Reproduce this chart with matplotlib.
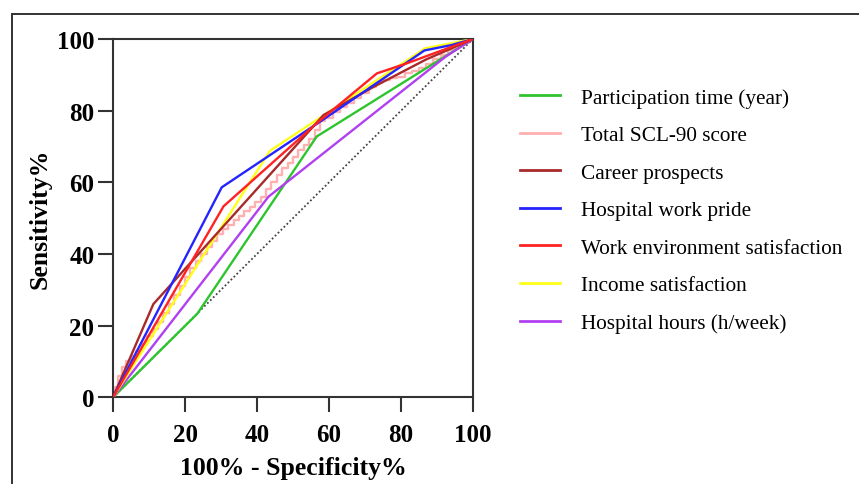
import matplotlib
matplotlib.use("Agg")
import matplotlib.pyplot as plt
from matplotlib.lines import Line2D

plt.rcParams['font.family'] = ['Liberation Serif', 'DejaVu Serif']

# ---- data ----
labels = ["Participation time (year)", "Total SCL-90 score", "Career prospects",
          "Hospital work pride", "Work environment satisfaction",
          "Income satisfaction", "Hospital hours (h/week)"]
colors = ["#2ec42e", "#ffb0b0", "#a82a2a", "#2424ff", "#ff2222", "#ffff1a", "#b040f0"]

part_x = [0, 23.4, 56.6, 100]
part_y = [0, 23.3, 72.8, 100]

scl_x = [0, 0.5, 1.5, 2.5, 3.5, 5, 6.5, 8, 9.5, 11, 12.5, 14, 15.5, 17, 18.5, 20, 21.5, 23,
         24.5, 26, 27.5, 29, 30.5, 32, 33.5, 35, 36.5, 38, 39.5, 41, 42.5, 44, 45.5, 47,
         48.5, 50, 51.5, 53, 54.5, 56, 57.5, 59, 61, 63, 65, 67, 69, 71, 73, 75, 77, 79,
         81, 83, 85, 87, 89, 91, 93, 95, 97, 98.5, 100]
scl_y = [0, 3, 6, 8.5, 10, 11.5, 13, 15, 17, 19, 21, 23.5, 26, 28.5, 31, 33.5, 36, 38,
         40, 42, 43.5, 45.5, 47, 48, 49.5, 50.5, 52, 53, 54.5, 56, 58, 60, 62, 64,
         65.5, 67, 69, 70.5, 72, 74.5, 77, 78, 79.5, 81, 82, 83.5, 85, 86.5, 88, 88.5, 89, 89.5,
         90.5, 91, 92, 93, 94.5, 95.5, 97, 98, 99, 99.5, 100]

career_x = [0, 11.2, 58.5, 72.3, 87, 100]
career_y = [0, 26, 78.8, 86.6, 94.3, 100]

pride_x = [0, 30.2, 59.4, 86.5, 94, 100]
pride_y = [0, 58.6, 78.2, 96.8, 98.3, 100]

env_x = [0, 30.7, 56.6, 73.3, 81.6, 100]
env_y = [0, 53.3, 76.5, 90.4, 93.2, 100]

income_x = [0, 43.6, 86.7, 100]
income_y = [0, 68.8, 97.4, 100]

hours_x = [0, 43.2, 92.3, 100]
hours_y = [0, 56, 95, 100]

ref_x = [0, 100]
ref_y = [0, 100]

x_ticks = [0, 20, 40, 60, 80, 100]
y_ticks = [0, 20, 40, 60, 80, 100]

# ---- figure ----
W, H = 859, 485
fig = plt.figure(figsize=(W / 100, H / 100), dpi=100)
ax = fig.add_axes([113 / W, 1 - 398.3 / H, (473 - 113) / W, (398.3 - 40) / H])

# outer frame (left and top edges visible)
fl = 12 / W
ft = 1 - 15 / H
fig.add_artist(Line2D([fl, fl], [0, ft], transform=fig.transFigure, color="#333333", lw=1.4))
fig.add_artist(Line2D([fl, 1], [ft, ft], transform=fig.transFigure, color="#333333", lw=1.4))

ax.plot(ref_x, ref_y, linestyle=(0, (1, 1.3)), color="#444444", lw=1.3, zorder=1)

series = [
    (part_x, part_y, None),
    (scl_x, scl_y, "steps-post"),
    (career_x, career_y, None),
    (pride_x, pride_y, None),
    (env_x, env_y, None),
    (income_x, income_y, None),
    (hours_x, hours_y, None),
]
order_z = [3, 2, 4, 5, 6, 3.5, 3]
for (xs, ys, ds), c, lab, z in zip(series, colors, labels, order_z):
    kw = {}
    if ds:
        kw['drawstyle'] = ds
    ax.plot(xs, ys, color=c, lw=1.7, label=lab, zorder=z, **kw)

ax.set_xlim(0, 100)
ax.set_ylim(0, 100)
ax.set_xticks(x_ticks)
ax.set_yticks(y_ticks)
ax.set_xticklabels([str(v) for v in x_ticks], fontsize=18, fontweight='bold')
ax.set_yticklabels([str(v) for v in y_ticks], fontsize=18, fontweight='bold')
for s in ax.spines.values():
    s.set_linewidth(1.5)
    s.set_color("#333333")
ax.tick_params(axis='both', direction='out', length=10.5, width=1.5, color="#333333")
ax.tick_params(axis='x', pad=8)
ax.tick_params(axis='y', pad=3)

ax.set_xlabel("100% - Specificity%", fontsize=18.5, fontweight='bold', labelpad=7)
ax.set_ylabel("Sensitivity%", fontsize=18.5, fontweight='bold', labelpad=4)

leg_handles = [Line2D([0], [0], color=c, lw=2) for c in colors]
fig.legend(leg_handles, labels, loc='upper left', bbox_to_anchor=(520 / W, 1 - 89 / H),
           frameon=False, fontsize=15.3, handlelength=1.9, handletextpad=0.98,
           labelspacing=0.83, borderpad=0, borderaxespad=0)

fig.savefig("out.png", dpi=100)
